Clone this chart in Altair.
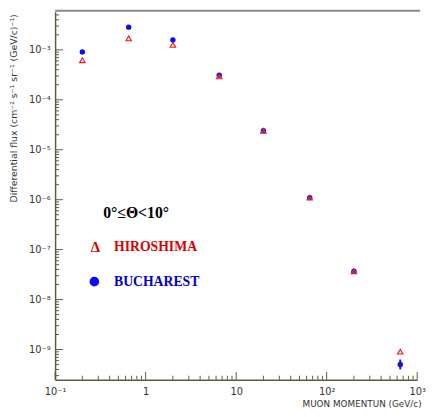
import altair as alt
import pandas as pd

# ---- data ----
momentum = [0.2, 0.65, 2.0, 6.5, 20.0, 65.0, 200.0, 650.0]
hiroshima_flux = [6.2e-4, 1.7e-3, 1.26e-3, 2.95e-4, 2.4e-5, 1.1e-6, 3.7e-8, 9.1e-10]
bucharest_flux = [9.1e-4, 2.85e-3, 1.58e-3, 3.1e-4, 2.4e-5, 1.1e-6, 3.7e-8, 5.0e-10]
bucharest_lo = [9.1e-4, 2.85e-3, 1.58e-3, 3.1e-4, 2.4e-5, 1.1e-6, 3.7e-8, 4.0e-10]
bucharest_hi = [9.1e-4, 2.85e-3, 1.58e-3, 3.1e-4, 2.4e-5, 1.1e-6, 3.7e-8, 6.3e-10]

x_major = [0.1, 1, 10, 100, 1000]
y_major = [1e-9, 1e-8, 1e-7, 1e-6, 1e-5, 1e-4, 1e-3]
x_minor = [m * d for d in [0.1, 1, 10, 100] for m in range(2, 10)]
y_minor = [m * d for d in [1e-10, 1e-9, 1e-8, 1e-7, 1e-6, 1e-5, 1e-4, 1e-3] for m in range(2, 10)]
y_minor = [v for v in y_minor if 2.4e-10 <= v <= 5.8e-3]

X_DOMAIN = [0.1, 1000]
Y_DOMAIN = [2.48e-10, 5.78e-3]

W, H = 369, 375
AXC = "#5c5c40"

df_h = pd.DataFrame({"p": momentum, "flux": hiroshima_flux})
df_b = pd.DataFrame({"p": momentum, "flux": bucharest_flux,
                     "lo": bucharest_lo, "hi": bucharest_hi})
one = pd.DataFrame({"k": [0]})

sup = "['⁰','¹','²','³','⁴','⁵','⁶','⁷','⁸','⁹']"
exp = "round(log(datum.value)/LN10)"
y_label_expr = f"'10' + ({exp} < 0 ? '⁻' : '') + {sup}[abs({exp})]"
x_label_expr = (f"{exp} == 0 ? '1' : ({exp} == 1 ? '10' : "
                f"'10' + ({exp} < 0 ? '⁻' : '') + {sup}[abs({exp})])")

xs = alt.Scale(type="log", domain=X_DOMAIN, nice=False)
ys = alt.Scale(type="log", domain=Y_DOMAIN, nice=False)


def xticks(values, size):
    return alt.Chart(pd.DataFrame({"v": values})).mark_tick(
        orient="vertical", size=size, thickness=1, color=AXC, opacity=1
    ).encode(x=alt.X("v:Q", scale=xs), y=alt.value(H - size / 2))


def yticks(values, size):
    return alt.Chart(pd.DataFrame({"v": values})).mark_tick(
        orient="horizontal", size=size, thickness=1, color=AXC, opacity=1
    ).encode(y=alt.Y("v:Q", scale=ys), x=alt.value(size / 2))


blue = alt.Chart(df_b).mark_circle(size=30, color="#0a0aff", opacity=1).encode(
    x=alt.X("p:Q", scale=xs, axis=alt.Axis(
        orient="bottom", values=x_major, labelExpr=x_label_expr,
        ticks=False, grid=False, domainColor=AXC, domainWidth=1.5,
        labelFont="DejaVu Sans", labelFontSize=10, labelColor="#333333",
        labelPadding=7, labelFlush=False,
        title="MUON MOMENTUN (GeV/c)", titleFont="DejaVu Sans",
        titleFontSize=9, titleFontWeight="normal", titleColor="#333333",
        titleAnchor="end", titleAlign="right", titleX=W + 4, titleY=27,
        titleBaseline="alphabetic")),
    y=alt.Y("flux:Q", scale=ys, axis=alt.Axis(
        orient="left", values=y_major, labelExpr=y_label_expr,
        ticks=False, grid=False, domainColor=AXC, domainWidth=1.5,
        labelFont="DejaVu Sans", labelFontSize=10, labelColor="#333333",
        labelPadding=5,
        title="Differential flux (cm⁻² s⁻¹ sr⁻¹ (GeV/c)⁻¹)",
        titleFont="DejaVu Sans", titleFontSize=9.5, titleFontWeight="normal",
        titleColor="#333333", titleAngle=270, titleAlign="right",
        titleBaseline="middle", titleX=-42, titleY=2)),
)

err = alt.Chart(df_b).mark_rule(color="#1010ee", strokeWidth=2).encode(
    x=alt.X("p:Q", scale=xs),
    y=alt.Y("lo:Q", scale=ys),
    y2="hi:Q",
)

red = alt.Chart(df_h).mark_point(
    shape="triangle-up", size=32, filled=False, stroke="#e02020", strokeWidth=1.1,
    fill="#ff9090", fillOpacity=0.35, opacity=1
).encode(
    x=alt.X("p:Q", scale=xs),
    y=alt.Y("flux:Q", scale=ys),
)

top_line = alt.Chart(one).mark_rule(color="#8a8a8a", strokeWidth=2).encode(
    x=alt.value(0), x2=alt.value(W + 3), y=alt.value(-1)
)

serif = "Liberation Serif"
t_angle = alt.Chart(one).mark_text(
    text="0°≤Θ<10°", font=serif, fontSize=16, fontWeight="bold",
    color="#000000", align="left", baseline="middle"
).encode(x=alt.value(49), y=alt.value(205))

t_delta = alt.Chart(one).mark_text(
    text="Δ", font=serif, fontSize=15, fontWeight="bold",
    color="#dd0000", align="center", baseline="middle"
).encode(x=alt.value(41), y=alt.value(240))

t_hiro = alt.Chart(one).mark_text(
    text="HIROSHIMA", font=serif, fontSize=14, fontWeight="bold",
    color="#dd0000", align="left", baseline="middle"
).encode(x=alt.value(60), y=alt.value(240))

m_buch = alt.Chart(one).mark_point(
    shape="circle", size=95, filled=True, color="#0a0aff", opacity=1
).encode(x=alt.value(40), y=alt.value(275))

t_buch = alt.Chart(one).mark_text(
    text="BUCHAREST", font=serif, fontSize=14, fontWeight="bold",
    color="#0000cc", align="left", baseline="middle"
).encode(x=alt.value(60), y=alt.value(275))

chart = alt.layer(
    blue, err, red,
    xticks(x_minor, 4), xticks(x_major, 8), yticks(y_minor, 4), yticks(y_major, 8),
    top_line, t_angle, t_delta, t_hiro, m_buch, t_buch
).properties(
    width=W, height=H,
    autosize=alt.AutoSizeParams(type="none"),
    padding={"left": 48, "top": 0, "right": 10, "bottom": 30},
).configure_view(stroke=None)

chart.save("out.html", embed_options={"renderer": "svg", "actions": False})
